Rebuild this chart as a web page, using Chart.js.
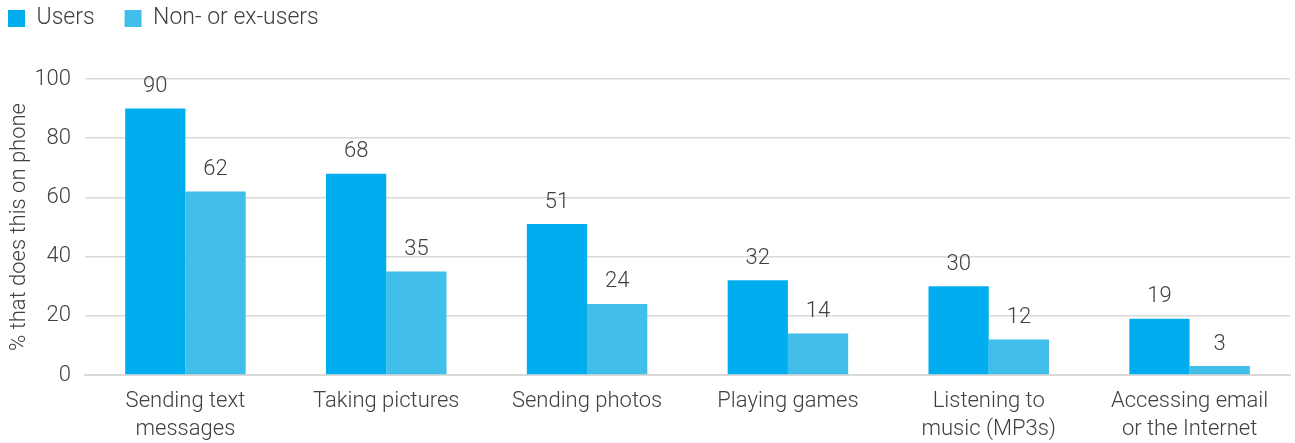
<!DOCTYPE html>
<html>
<head>
<meta charset="utf-8">
<script src="https://cdn.jsdelivr.net/npm/chart.js@4"></script>
<style>
  html, body { margin: 0; padding: 0; background: #fff; }
  #wrap { width: 1295px; height: 443px; }
</style>
</head>
<body>
<div id="wrap"><canvas id="phoneChart" width="1295" height="443"></canvas></div>
<script>
const categories = [
    ["Sending text", "messages"],
    "Taking pictures",
    "Sending photos",
    "Playing games",
    ["Listening to", "music (MP3s)"],
    ["Accessing email", "or the Internet"]
];
const usersValues = [90, 68, 51, 32, 30, 19];
const nonUsersValues = [62, 35, 24, 14, 12, 3];
const yTicks = [0, 20, 40, 60, 80, 100];

const textColor = "#404040";
const fontFamily = "Roboto, 'Noto Sans', sans-serif";
const legendPad = 30;

// Draw the value above each bar
const valueLabels = {
    id: "valueLabels",
    afterDatasetsDraw(chart) {
        const ctx = chart.ctx;
        ctx.save();
        ctx.font = "300 22px " + fontFamily;
        ctx.fillStyle = textColor;
        ctx.textAlign = "center";
        ctx.textBaseline = "middle";
        chart.data.datasets.forEach((ds, i) => {
            chart.getDatasetMeta(i).data.forEach((bar, j) => {
                ctx.fillText(ds.data[j], bar.x, bar.y - 22);
            });
        });
        ctx.restore();
    }
};

// Wide spacing between legend items, but keep the legend tucked into the corner
const legendLayout = {
    id: "legendLayout",
    beforeInit(chart) {
        const legend = chart.legend;
        const fit = legend.fit;
        legend.fit = function () {
            fit.call(this);
            this.height = 79;
        };
        const draw = legend.draw;
        legend.draw = function () {
            this.ctx.save();
            this.ctx.translate(-22, -23);
            draw.call(this);
            this.ctx.restore();
        };
    }
};

const ctx = document.getElementById("phoneChart").getContext("2d");
new Chart(ctx, {
    type: "bar",
    data: {
        labels: categories,
        datasets: [
            { label: "Users", data: usersValues, backgroundColor: "#00AEEF" },
            { label: "Non- or ex-users", data: nonUsersValues, backgroundColor: "#41BFEA" }
        ]
    },
    options: {
        responsive: false,
        animation: false,
        layout: { padding: { left: 0, right: 5, top: 0, bottom: 0 } },
        datasets: {
            bar: { categoryPercentage: 0.6, barPercentage: 1.0 }
        },
        plugins: {
            legend: {
                position: "top",
                align: "start",
                labels: {
                    boxWidth: 17,
                    boxHeight: 17,
                    padding: legendPad,
                    color: textColor,
                    font: { family: fontFamily, size: 23, weight: 300 }
                }
            },
            tooltip: { enabled: false }
        },
        scales: {
            x: {
                afterFit(axis) { axis.height = 68; },
                grid: { display: false },
                border: { color: "#d9d9d9", width: 2 },
                ticks: {
                    color: textColor,
                    maxRotation: 0,
                    padding: 5,
                    font: { family: fontFamily, size: 22, weight: 300, lineHeight: 1.25 }
                }
            },
            y: {
                min: 0,
                max: 100,
                afterFit(axis) { axis.width = 85; },
                afterBuildTicks(axis) {
                    axis.ticks = yTicks.map(v => ({ value: v }));
                },
                grid: { color: "#d9d9d9", lineWidth: 1.5, drawTicks: false },
                border: { display: false },
                ticks: {
                    color: textColor,
                    padding: 14,
                    font: { family: fontFamily, size: 22, weight: 300 }
                },
                title: {
                    display: true,
                    text: "% that does this on phone",
                    color: textColor,
                    padding: { top: 6, bottom: 0 },
                    font: { family: fontFamily, size: 22, weight: 300 }
                }
            }
        }
    },
    plugins: [valueLabels, legendLayout]
});
</script>
</body>
</html>
